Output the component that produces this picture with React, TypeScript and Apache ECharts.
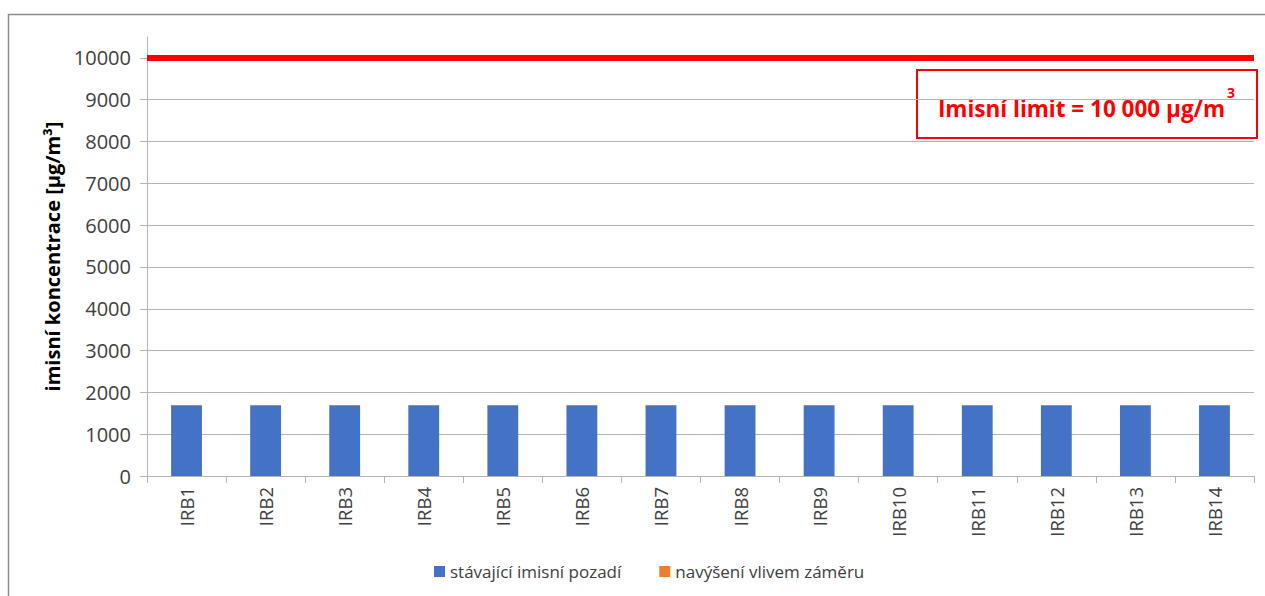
import React, { useEffect, useRef } from "react";
import * as echarts from "echarts";

// Receptor points
const categories = [
  "IRB1", "IRB2", "IRB3", "IRB4", "IRB5", "IRB6", "IRB7",
  "IRB8", "IRB9", "IRB10", "IRB11", "IRB12", "IRB13", "IRB14",
];
// Existing background concentration [µg/m³]
const background = [1690, 1690, 1690, 1690, 1690, 1690, 1690, 1690, 1690, 1690, 1690, 1690, 1690, 1690];
// Increase caused by the project [µg/m³]
const increase = [8, 8, 8, 8, 8, 8, 8, 8, 8, 8, 8, 8, 8, 8];
// Limit value [µg/m³]
const limitValue = 10000;

const seriesNames = ["stávající imisní pozadí", "navýšení vlivem záměru"];
const FONT = "'Open Sans', Lato, sans-serif";
const TEXT = "#404040";
const GRID = "#b4b4b4";

export default function App() {
  const ref = useRef<HTMLDivElement>(null);

  useEffect(() => {
    if (!ref.current) return;
    const chart = echarts.init(ref.current, undefined, { renderer: "svg" });
    chart.setOption({
      animation: false,
      textStyle: { fontFamily: FONT },
      grid: { left: 147, right: 11, top: 37, bottom: 120, containLabel: false },
      legend: {
        bottom: 11,
        left: 429,
        icon: "rect",
        itemWidth: 11,
        itemHeight: 11,
        itemGap: 38,
        textStyle: { color: TEXT, fontSize: 17, fontFamily: FONT },
        data: seriesNames,
      },
      xAxis: {
        type: "category",
        data: categories,
        axisLine: { lineStyle: { color: GRID, width: 1 } },
        axisTick: { show: true, length: 7, lineStyle: { color: GRID } },
        axisLabel: { rotate: 90, color: TEXT, fontSize: 18.5, margin: 11, fontFamily: FONT },
      },
      yAxis: {
        type: "value",
        min: 0,
        max: 10500,
        interval: 1000,
        name: "imisní koncentrace [µg/m³]",
        nameLocation: "middle",
        nameGap: 85,
        nameTextStyle: { color: "#000", fontSize: 20, fontWeight: "bold", fontFamily: FONT },
        axisLine: { show: true, lineStyle: { color: GRID, width: 1 } },
        axisTick: { show: true, length: 7, lineStyle: { color: GRID } },
        axisLabel: {
          color: TEXT,
          fontSize: 20,
          margin: 16,
          showMaxLabel: false,
          fontFamily: FONT,
          formatter: (v: number) => String(v),
        },
        splitLine: { show: true, showMaxLine: false, lineStyle: { color: GRID, width: 1 } },
      },
      series: [
        {
          name: seriesNames[0],
          type: "bar",
          stack: "total",
          barWidth: "39%",
          data: background,
          itemStyle: { color: "#4472c4" },
          markLine: {
            silent: true,
            symbol: "none",
            label: { show: false },
            lineStyle: { color: "#ff0000", width: 6, type: "solid" },
            data: [{ yAxis: limitValue }],
          },
        },
        {
          name: seriesNames[1],
          type: "bar",
          stack: "total",
          barWidth: "39%",
          data: increase,
          itemStyle: { color: "#ed7d31" },
        },
      ],
      graphic: [
        {
          type: "rect",
          silent: true,
          shape: { x: 8.5, y: 14.5, width: 1300, height: 700 },
          style: { fill: "none", stroke: "#8c8c8c", lineWidth: 1.5 },
        },
        {
          type: "rect",
          silent: true,
          shape: { x: 917, y: 70, width: 340, height: 68 },
          style: { fill: "#fff", stroke: "#ff0000", lineWidth: 2 },
        },
        {
          type: "text",
          silent: true,
          x: 1225,
          y: 108,
          style: {
            text: "Imisní limit = " + "10 000" + " µg/m",
            fill: "#ff0000",
            fontSize: 22.5,
            fontWeight: "bold",
            fontFamily: FONT,
            align: "right",
            verticalAlign: "middle",
          },
        },
        {
          type: "text",
          silent: true,
          x: 1227,
          y: 85,
          style: {
            text: "3",
            fill: "#ff0000",
            fontSize: 14,
            fontWeight: "bold",
            fontFamily: FONT,
            align: "left",
            verticalAlign: "top",
          },
        },
      ],
    });
    return () => chart.dispose();
  }, []);

  return (
    <div
      ref={ref}
      style={{ position: "fixed", left: 0, top: 0, width: 1265, height: 596, background: "#fff" }}
    />
  );
}
